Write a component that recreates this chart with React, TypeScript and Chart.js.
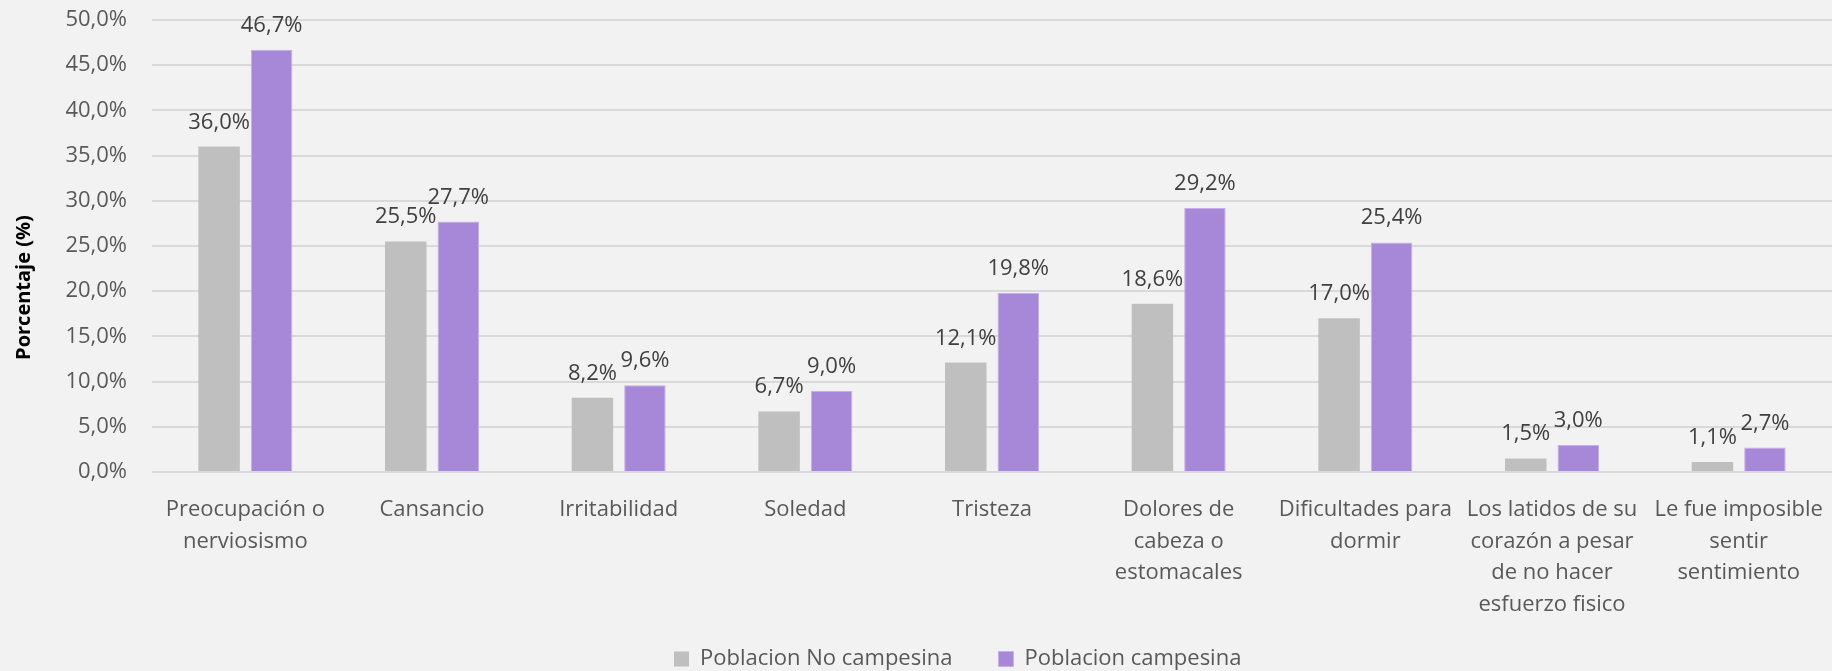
import React, { useEffect, useRef } from "react";
import { Chart, registerables } from "chart.js";

Chart.register(...registerables);

const categories: (string | string[])[] = [
  ["Preocupación o", "nerviosismo"],
  "Cansancio",
  "Irritabilidad",
  "Soledad",
  "Tristeza",
  ["Dolores de", "cabeza o", "estomacales"],
  ["Dificultades para", "dormir"],
  ["Los latidos de su", "corazón a pesar", "de no hacer", "esfuerzo fisico"],
  ["Le fue imposible", "sentir", "sentimiento"],
];

const seriesNames = ["Poblacion No campesina", "Poblacion campesina"];
const noCampesina = [36.0, 25.5, 8.2, 6.7, 12.1, 18.6, 17.0, 1.5, 1.1];
const campesina = [46.7, 27.7, 9.6, 9.0, 19.8, 29.2, 25.4, 3.0, 2.7];

const yMin = 0;
const yMax = 50;
const yStep = 5;
const yTitle = "Porcentaje (%)";

const FONT = "'Open Sans', 'Noto Sans', sans-serif";
const W = 1832;
const H = 671;
const PLOT_TOP = 20;
const PLOT_LEFT = 152;
const PLOT_BOTTOM = 472;
const LEGEND_BAND = 20;
const LEGEND_LEFT = 674;
const LEGEND_MID_Y = 659;

const fmt = (v: number) => v.toFixed(1).replace(".", ",") + "%";

const backgroundPlugin = {
  id: "bg",
  beforeDraw(chart: any) {
    const ctx = chart.ctx;
    ctx.save();
    ctx.fillStyle = "#f2f2f2";
    ctx.fillRect(0, 0, chart.width, chart.height);
    ctx.restore();
  },
};

const dataLabelPlugin = {
  id: "dataLabels",
  afterDatasetsDraw(chart: any) {
    const ctx = chart.ctx;
    ctx.save();
    ctx.font = `22px ${FONT}`;
    ctx.fillStyle = "#404040";
    ctx.textAlign = "center";
    ctx.textBaseline = "alphabetic";
    chart.data.datasets.forEach((ds: any, i: number) => {
      const meta = chart.getDatasetMeta(i);
      meta.data.forEach((bar: any, j: number) => {
        ctx.fillText(fmt(ds.data[j]), bar.x, bar.y - 18);
      });
    });
    ctx.restore();
  },
};

const legendPlacementPlugin = {
  id: "legendPlacement",
  afterLayout(chart: any) {
    const lg = chart.legend;
    if (!lg || !lg.lineWidths) return;
    const pad = lg.options.labels.padding;
    const x0 = (lg.left + pad + lg.right - lg.lineWidths[0]) / 2;
    const dx = LEGEND_LEFT - x0;
    lg.left += dx;
    lg.right += dx;
    lg.top = LEGEND_MID_Y - 11 - pad;
    lg.bottom = chart.height;
  },
};

export default function App() {
  const ref = useRef<HTMLCanvasElement | null>(null);

  useEffect(() => {
    document.body.style.margin = "0";
    document.body.style.background = "#f2f2f2";
    if (!ref.current) return;
    const chart = new Chart(ref.current, {
      type: "bar",
      data: {
        labels: categories,
        datasets: [
          {
            label: seriesNames[0],
            data: noCampesina,
            backgroundColor: "#bfbfbf",
            borderColor: "#c9c9c9",
            borderWidth: 0,
            barPercentage: 0.79,
            categoryPercentage: 0.5625,
          },
          {
            label: seriesNames[1],
            data: campesina,
            backgroundColor: "#a687d8",
            borderColor: "#c4b0ea",
            borderWidth: 1,
            barPercentage: 0.79,
            categoryPercentage: 0.5625,
          },
        ],
      },
      options: {
        responsive: false,
        animation: false,
        layout: { padding: { top: PLOT_TOP, right: 0, left: 0, bottom: 0 } },
        plugins: {
          legend: {
            position: "bottom",
            maxHeight: LEGEND_BAND,
            labels: {
              boxWidth: 15,
              boxHeight: 15,
              padding: 46,
              color: "#595959",
              font: { family: FONT, size: 22 },
            },
          },
          tooltip: { enabled: false },
        },
        scales: {
          x: {
            afterFit(scale: any) {
              const lgH = scale.chart.legend ? scale.chart.legend.height : 0;
              scale.height = scale.chart.height - PLOT_BOTTOM - lgH;
              scale.paddingLeft = 0;
              scale.paddingRight = 0;
            },
            grid: { display: false },
            border: { display: false },
            ticks: {
              color: "#595959",
              font: { family: FONT, size: 22, lineHeight: 1.44 },
              padding: 14,
              maxRotation: 0,
              autoSkip: false,
            },
          },
          y: {
            min: yMin,
            max: yMax,
            afterFit(scale: any) {
              scale.width = PLOT_LEFT;
              scale.paddingTop = 0;
              scale.paddingBottom = 0;
            },
            grid: { color: "#d9d9d9", lineWidth: 2, drawTicks: false },
            border: { display: false },
            ticks: {
              stepSize: yStep,
              color: "#595959",
              font: { family: FONT, size: 22 },
              padding: 25,
              callback: (v: any) => fmt(Number(v)),
            },
            title: {
              display: true,
              text: yTitle + " ".repeat(16),
              color: "#000000",
              font: { family: FONT, size: 20, weight: "bold" },
              padding: { top: 12, bottom: 0 },
            },
          },
        },
      },
      plugins: [backgroundPlugin, dataLabelPlugin, legendPlacementPlugin],
    });
    return () => chart.destroy();
  }, []);

  return (
    <div style={{ width: W, height: H }}>
      <canvas ref={ref} width={W} height={H} />
    </div>
  );
}
